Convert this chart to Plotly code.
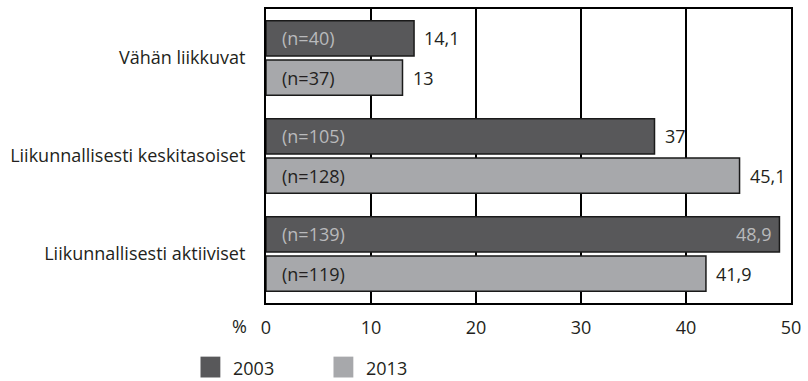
import plotly.graph_objects as go

categories = ["Vähän liikkuvat", "Liikunnallisesti keskitasoiset", "Liikunnallisesti aktiiviset"]
years = ["2003", "2013"]
values_2003 = [14.1, 37.0, 48.9]
values_2013 = [13.0, 45.1, 41.9]
n_2003 = [40, 105, 139]
n_2013 = [37, 128, 119]
x_ticks = [0, 10, 20, 30, 40, 50]

DARK = "#58585a"
LIGHT = "#a7a8ab"
TXT = "#231f20"
LTXT = "#b9babc"
FONT = "Open Sans"
FS = 18

W, H = 808, 381
ML, MR, MT, MB = 266, 13, 7, 78
PW, PH = W - ML - MR, H - MT - MB

fig = go.Figure()
series = [(years[0], values_2003, n_2003, DARK), (years[1], values_2013, n_2013, LIGHT)]
for name, vals, ns, col in series:
    fig.add_trace(go.Bar(
        y=categories, x=vals, name=name, orientation="h",
        marker=dict(color=col, line=dict(color="#1a1a1a", width=1.5)),
        showlegend=False, hoverinfo="skip",
    ))

def fmt(v):
    s = f"{v:.1f}".replace(".", ",")
    return s[:-2] if s.endswith(",0") else s

annotations = []
for i, (name, vals, ns, col) in enumerate(series):
    ysh = 20 if i == 0 else -20
    for cat, v, n in zip(categories, vals, ns):
        annotations.append(dict(x=0, y=cat, text=f"(n={n})", showarrow=False,
                                xanchor="left", xshift=14, yshift=ysh,
                                font=dict(family=FONT, size=FS, color=LTXT if i == 0 else TXT)))
        inside = v > 47
        annotations.append(dict(x=v, y=cat, text=fmt(v), showarrow=False,
                                xanchor="right" if inside else "left",
                                xshift=-5 if inside else 8, yshift=ysh,
                                font=dict(family=FONT, size=FS, color=LTXT if inside else TXT)))

annotations.append(dict(x=0, y=0, xref="paper", yref="paper", text="%", showarrow=False,
                        xanchor="right", yanchor="top", xshift=-17, yshift=-9,
                        font=dict(family=FONT, size=FS, color=TXT)))

# legend: squares + labels (pixel positions converted to paper coords)
def px(xp):
    return (xp - ML) / PW

def py(yp):
    return (H - MB - yp) / PH

shapes = []
legend_left = [200, 334]
for (name, vals, ns, col), lx in zip(series, legend_left):
    shapes.append(dict(type="rect", xref="paper", yref="paper",
                       x0=px(lx), x1=px(lx + 20), y0=py(378), y1=py(357),
                       fillcolor=col, line=dict(width=0)))
    annotations.append(dict(x=px(lx + 31), y=py(368), xref="paper", yref="paper",
                            text=name, showarrow=False, xanchor="left", yanchor="middle",
                            font=dict(family=FONT, size=FS, color=TXT)))

fig.update_layout(
    width=W, height=H,
    margin=dict(l=ML, r=MR, t=MT, b=MB),
    paper_bgcolor="white", plot_bgcolor="white",
    barmode="group", bargap=0.2, bargroupgap=0.1,
    font=dict(family=FONT, size=FS, color=TXT),
    annotations=annotations, shapes=shapes,
    showlegend=False,
    xaxis=dict(range=[0, 50], tickvals=x_ticks, showgrid=True, gridcolor="#000000", gridwidth=1.5,
               showline=True, linecolor="#000000", linewidth=2, mirror=True,
               zeroline=False, ticks="", ticklabelstandoff=7,
               tickfont=dict(family=FONT, size=FS, color=TXT)),
    yaxis=dict(autorange="reversed", showline=True, linecolor="#000000", linewidth=2, mirror=True,
               ticks="", ticklabelstandoff=15, showgrid=False,
               tickfont=dict(family=FONT, size=FS, color=TXT)),
)

fig.write_html("out.html")
